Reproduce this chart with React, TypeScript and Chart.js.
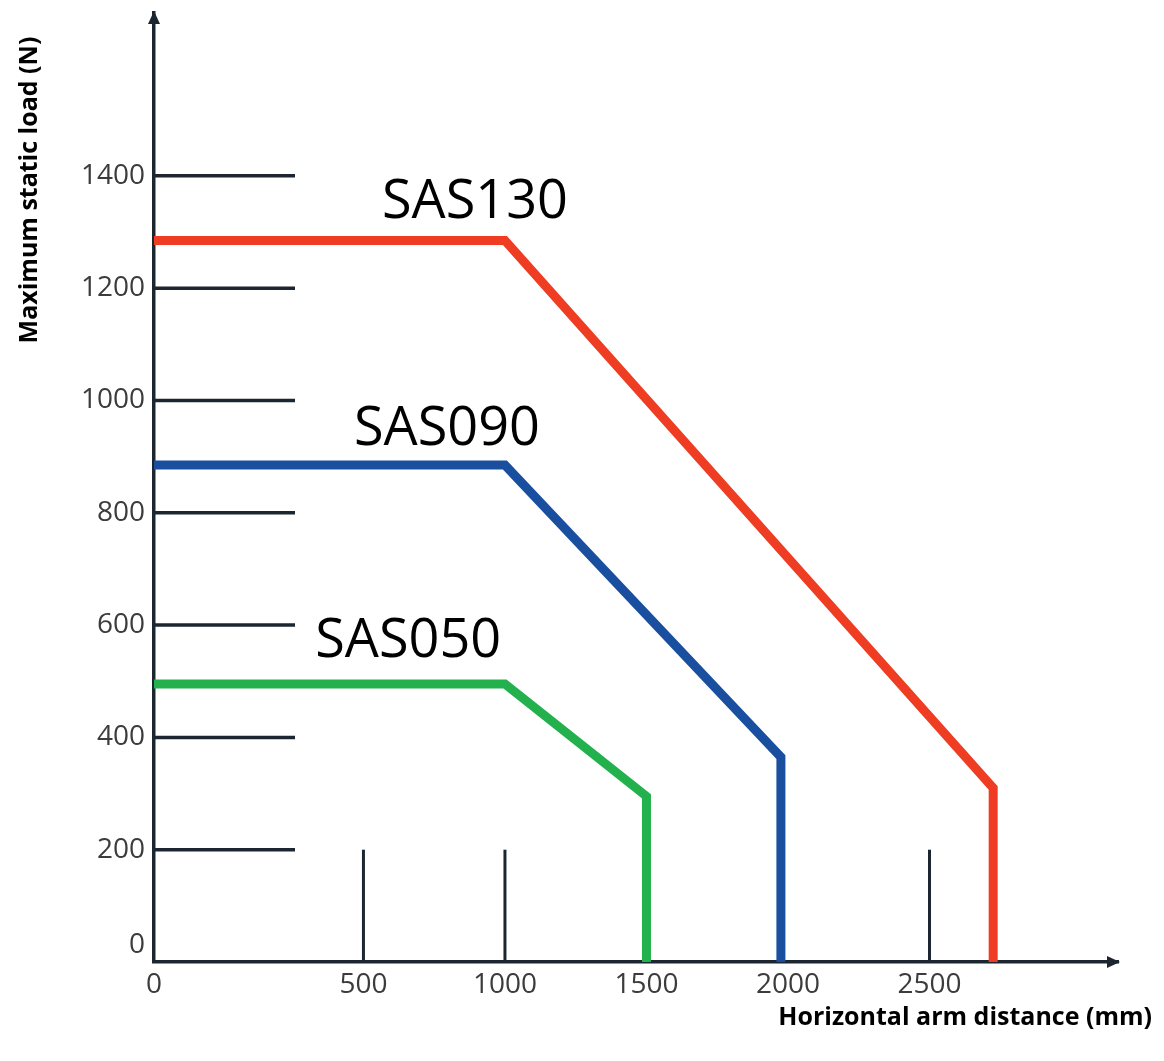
import React, { useEffect, useRef } from 'react';
import { Chart, registerables, LinearScale } from 'chart.js';

// ---------- data ----------
const SERIES_NAMES = ['SAS050', 'SAS090', 'SAS130'];
const SAS050_X = [0, 1000, 1500, 1500];
const SAS050_Y = [495, 495, 295, 0];
const SAS090_X = [0, 1000, 1975, 1975];
const SAS090_Y = [885, 885, 365, 0];
const SAS130_X = [0, 1000, 2725, 2725];
const SAS130_Y = [1285, 1285, 310, 0];
const SERIES_COLORS = ['#22b14c', '#1a4fa0', '#ee3d23'];

// label anchor positions (data units)
const LABEL_X = [658, 795, 894];
const LABEL_Y = [544, 921, 1325];

const X_TICKS = [0, 500, 1000, 1500, 2000, 2500];
const Y_TICKS = [0, 200, 400, 600, 800, 1000, 1200, 1400];
const X_MARKS = [500, 1000, 2500];
const X_MARK_TOP = 200;
const X_MAX = 3166;
const Y_MAX = 1690;

const Y_TITLE = 'Maximum static load (N)';
const X_TITLE = 'Horizontal arm distance (mm)';

// ---------- stretched linear scale (first 500 mm drawn wider, as in the source figure) ----------
const STRETCH_END = 500;
const STRETCH = 1.48;

class StretchedScale extends LinearScale {
  static id = 'stretched';
  static defaults = LinearScale.defaults;
  toT(v: number) {
    return v <= STRETCH_END ? v * STRETCH : STRETCH_END * STRETCH + (v - STRETCH_END);
  }
  fromT(t: number) {
    const b = STRETCH_END * STRETCH;
    return t <= b ? t / STRETCH : STRETCH_END + (t - b);
  }
  getPixelForValue(value: any) {
    if (value === null || value === undefined || isNaN(value)) return NaN;
    const t0 = this.toT((this as any).min);
    const t1 = this.toT((this as any).max);
    return (this as any).getPixelForDecimal((this.toT(value) - t0) / (t1 - t0));
  }
  getValueForPixel(pixel: number) {
    const t0 = this.toT((this as any).min);
    const t1 = this.toT((this as any).max);
    return this.fromT(t0 + (this as any).getDecimalForPixel(pixel) * (t1 - t0));
  }
}

Chart.register(...registerables, StretchedScale as any);

const AXIS_COLOR = '#1b2631';
const TICK_COLOR = '#3c3c3c';
const FONT = "'Open Sans', 'Noto Sans', sans-serif";

const decorPlugin = {
  id: 'decor',
  beforeDatasetsDraw(chart: any) {
    const { ctx, chartArea, scales } = chart;
    const x = scales.x;
    const y = scales.y;
    ctx.save();
    ctx.strokeStyle = AXIS_COLOR;
    ctx.lineWidth = 3.5;
    ctx.lineCap = 'butt';
    // horizontal tick segments
    Y_TICKS.forEach((v) => {
      if (v === 0) return;
      const py = y.getPixelForValue(v);
      ctx.beginPath();
      ctx.moveTo(chartArea.left, py);
      ctx.lineTo(chartArea.left + 141, py);
      ctx.stroke();
    });
    // vertical tick segments
    ctx.lineWidth = 3;
    X_MARKS.forEach((v) => {
      const px = x.getPixelForValue(v);
      ctx.beginPath();
      ctx.moveTo(px, y.getPixelForValue(0));
      ctx.lineTo(px, y.getPixelForValue(X_MARK_TOP));
      ctx.stroke();
    });
    ctx.restore();
  },
  afterDraw(chart: any) {
    const { ctx, chartArea, scales } = chart;
    const x = scales.x;
    const y = scales.y;
    ctx.save();
    // arrows
    ctx.fillStyle = AXIS_COLOR;
    ctx.beginPath();
    ctx.moveTo(chartArea.left, chartArea.top - 2);
    ctx.lineTo(chartArea.left - 6, chartArea.top + 11);
    ctx.lineTo(chartArea.left + 6, chartArea.top + 11);
    ctx.closePath();
    ctx.fill();
    ctx.beginPath();
    ctx.moveTo(chartArea.right + 2, chartArea.bottom);
    ctx.lineTo(chartArea.right - 11, chartArea.bottom - 6);
    ctx.lineTo(chartArea.right - 11, chartArea.bottom + 6);
    ctx.closePath();
    ctx.fill();

    // series labels
    ctx.fillStyle = '#000000';
    ctx.font = `54px ${FONT}`;
    ctx.textAlign = 'center';
    ctx.textBaseline = 'alphabetic';
    SERIES_NAMES.forEach((name, i) => {
      ctx.fillText(name, x.getPixelForValue(LABEL_X[i]), y.getPixelForValue(LABEL_Y[i]));
    });

    // axis titles
    ctx.font = `bold 25px ${FONT}`;
    ctx.fillStyle = '#000000';
    ctx.save();
    ctx.translate(chartArea.left - 124, chartArea.top + 177);
    ctx.rotate(-Math.PI / 2);
    ctx.textAlign = 'center';
    ctx.textBaseline = 'middle';
    ctx.fillText(Y_TITLE, 0, 0);
    ctx.restore();
    ctx.textAlign = 'right';
    ctx.textBaseline = 'middle';
    ctx.fillText(X_TITLE, chartArea.right + 34, chartArea.bottom + 56);
    ctx.restore();
  },
};

export default function App() {
  const canvasRef = useRef<HTMLCanvasElement | null>(null);

  useEffect(() => {
    document.body.style.margin = '0';
    const canvas = canvasRef.current;
    if (!canvas) return;
    const makeData = (xs: number[], ys: number[]) => xs.map((v, i) => ({ x: v, y: ys[i] }));
    const allX = [SAS050_X, SAS090_X, SAS130_X];
    const allY = [SAS050_Y, SAS090_Y, SAS130_Y];

    const chart = new Chart(canvas, {
      type: 'line',
      data: {
        datasets: SERIES_NAMES.map((name, i) => ({
          label: name,
          data: makeData(allX[i], allY[i]),
          borderColor: SERIES_COLORS[i],
          backgroundColor: SERIES_COLORS[i],
          borderWidth: 9,
          pointRadius: 0,
          tension: 0,
          fill: false,
          borderJoinStyle: 'miter',
          borderCapStyle: 'butt',
        })),
      },
      options: {
        animation: false,
        responsive: true,
        maintainAspectRatio: false,
        events: [],
        layout: { padding: { top: 13, right: 46, left: 0, bottom: 0 } },
        plugins: {
          legend: { display: false },
          tooltip: { enabled: false },
        },
        scales: {
          x: {
            type: 'stretched' as any,
            min: 0,
            max: X_MAX,
            grid: { display: false, drawTicks: false },
            border: { display: true, color: AXIS_COLOR, width: 3.5 },
            ticks: {
              autoSkip: false,
              maxRotation: 0,
              padding: 6,
              color: TICK_COLOR,
              font: { family: FONT, size: 28 },
              callback: (v: any) => String(v),
            },
            afterBuildTicks: (scale: any) => {
              scale.ticks = X_TICKS.map((v) => ({ value: v }));
            },
            afterFit: (scale: any) => {
              scale.height = 99;
              scale.paddingLeft = 0;
              scale.paddingRight = 0;
            },
          } as any,
          y: {
            type: 'linear',
            min: 0,
            max: Y_MAX,
            grid: { display: false, drawTicks: false },
            border: { display: true, color: AXIS_COLOR, width: 3.5 },
            ticks: {
              autoSkip: false,
              padding: 9,
              color: TICK_COLOR,
              font: { family: FONT, size: 28 },
              callback: (v: any) => (v === 0 ? ['0', ''] : String(v)),
            },
            afterBuildTicks: (scale: any) => {
              scale.ticks = Y_TICKS.map((v) => ({ value: v }));
            },
            afterFit: (scale: any) => {
              scale.width = 154;
              scale.paddingTop = 0;
              scale.paddingBottom = 0;
            },
          },
        },
      },
      plugins: [decorPlugin],
    } as any);

    return () => chart.destroy();
  }, []);

  return (
    <div style={{ position: 'relative', width: 1164, height: 1061, background: '#ffffff' }}>
      <canvas ref={canvasRef} />
    </div>
  );
}
